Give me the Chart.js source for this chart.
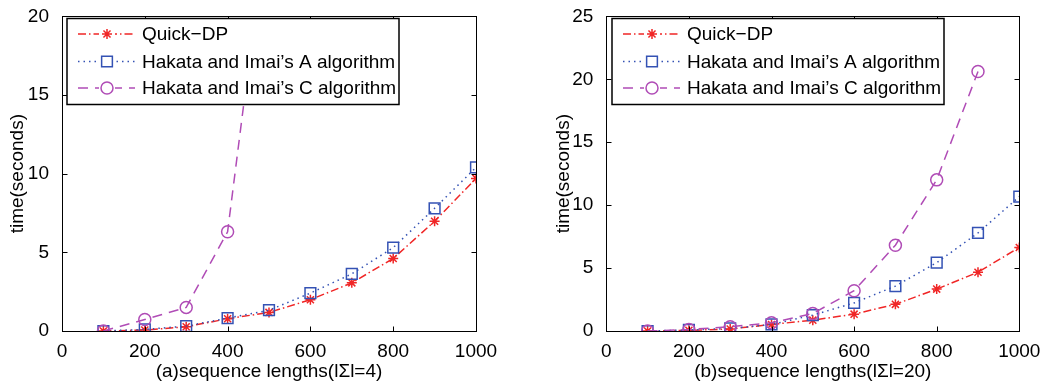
<!DOCTYPE html>
<html><head><meta charset="utf-8">
<script src="https://cdn.jsdelivr.net/npm/chart.js@4.4.1/dist/chart.umd.min.js"></script>
<style>
html,body{margin:0;padding:0;background:#fff;}
#wrap{position:relative;width:1044px;height:389px;overflow:hidden;}
#c1{position:absolute;left:0;top:0;}
#c2{position:absolute;left:520px;top:0;}
</style></head><body>
<div id="wrap"><canvas id="c1" width="520" height="389"></canvas><canvas id="c2" width="524" height="389"></canvas></div>
<script>
// ---- data ----
const lengths = [100, 200, 300, 400, 500, 600, 700, 800, 900, 1000];
const seriesNames = ['Quick\u2212DP', 'Hakata and Imai\u2019s A algorithm', 'Hakata and Imai\u2019s C algorithm'];
const quickDP4  = [0, 0.06, 0.27, 0.78, 1.18, 1.99, 3.06, 4.61, 6.98, 9.7];
const hakataA4  = [0, 0.1, 0.31, 0.82, 1.32, 2.41, 3.63, 5.3, 7.8, 10.4];
const hakataC4  = [0, 0.73, 1.5, 6.31, 27.1];
const quickDP20 = [0, 0.05, 0.16, 0.52, 0.86, 1.34, 2.12, 3.33, 4.67, 6.64];
const hakataA20 = [0, 0.08, 0.2, 0.52, 1.26, 2.23, 3.57, 5.43, 7.79, 10.68];
const hakataC20 = [0, 0.12, 0.34, 0.65, 1.39, 3.2, 6.82, 12.01, 20.62];
const xTicks = [0, 200, 400, 600, 800, 1000];
const yTicks4 = [0, 5, 10, 15, 20];
const yTicks20 = [0, 5, 10, 15, 20, 25];
const xLabel4 = '(a)sequence lengths(l\u03A3l=4)';
const xLabel20 = '(b)sequence lengths(l\u03A3l=20)';
const yLabel = 'time(seconds)';

// ---- styles ----
const FONT = {family: '"Liberation Sans", Arial, Helvetica, sans-serif', size: 19};
const styles = [
  {color: '#f02626', dash: [8, 3, 1.5, 3], pointStyle: 'star', radius: 5},
  {color: '#3452b4', dash: [1.5, 4], pointStyle: 'rect', radius: 7.6},
  {color: '#b04cb6', dash: [10, 7], pointStyle: 'circle', radius: 6}
];

function toPts(vals) { return vals.map((v, i) => ({x: lengths[i], y: v})); }

const framePlugin = {
  id: 'frame',
  afterDraw(chart) {
    const ctx = chart.ctx, a = chart.chartArea;
    ctx.save();
    ctx.strokeStyle = '#000';
    ctx.lineWidth = 1;
    ctx.setLineDash([]);
    const L = Math.round(a.left) + 0.5, R = Math.round(a.right) + 0.5;
    const T = Math.round(a.top) + 0.5, B = Math.round(a.bottom) + 0.5;
    ctx.strokeRect(L, T, R - L, B - T);
    const tl = 5;
    ctx.beginPath();
    chart.scales.x.ticks.forEach(t => {
      const px = Math.round(chart.scales.x.getPixelForValue(t.value)) + 0.5;
      ctx.moveTo(px, B); ctx.lineTo(px, B - tl);
      ctx.moveTo(px, T); ctx.lineTo(px, T + tl);
    });
    chart.scales.y.ticks.forEach(t => {
      const py = Math.round(chart.scales.y.getPixelForValue(t.value)) + 0.5;
      ctx.moveTo(L, py); ctx.lineTo(L + tl, py);
      ctx.moveTo(R, py); ctx.lineTo(R - tl, py);
    });
    ctx.stroke();
    ctx.restore();
  }
};

const legendPlugin = {
  id: 'boxLegend',
  afterDraw(chart, args, opts) {
    const ctx = chart.ctx;
    const bx = opts.x, by = 18.5, bw = 332, bh = 86;
    ctx.save();
    ctx.fillStyle = '#fff';
    ctx.fillRect(bx, by, bw, bh);
    ctx.strokeStyle = '#000';
    ctx.lineWidth = 1.5;
    ctx.setLineDash([]);
    ctx.strokeRect(bx, by, bw, bh);
    const rows = [34, 61.5, 88];
    chart.data.datasets.forEach((ds, i) => {
      const y = rows[i];
      const st = styles[i];
      ctx.strokeStyle = st.color;
      ctx.lineWidth = 1.5;
      ctx.setLineDash(st.dash);
      ctx.beginPath();
      ctx.moveTo(bx + 11, y); ctx.lineTo(bx + 68, y);
      ctx.stroke();
      ctx.setLineDash([]);
      ctx.fillStyle = '#fff';
      ctx.fillRect(bx + 32, y - 7, 16, 14);
      ctx.strokeStyle = st.color;
      ctx.fillStyle = 'rgba(0,0,0,0)';
      ctx.lineWidth = 1.5;
      Chart.helpers.drawPoint(ctx, {pointStyle: st.pointStyle, radius: st.radius, borderWidth: 1.5, rotation: 0}, bx + 40, y);
      ctx.fillStyle = '#000';
      ctx.font = FONT.size + 'px ' + FONT.family;
      ctx.textBaseline = 'middle';
      ctx.textAlign = 'left';
      ctx.fillText(seriesNames[i], bx + 75, y + 1);
    });
    ctx.restore();
  }
};

function makeChart(id, series, yMax, yTicks, xLabel, leftW, rightPad, yTitlePad, legendX) {
  const datasets = series.map((vals, i) => ({
    label: seriesNames[i],
    data: toPts(vals),
    borderColor: styles[i].color,
    backgroundColor: 'rgba(0,0,0,0)',
    borderWidth: 1.5,
    borderDash: styles[i].dash,
    pointStyle: styles[i].pointStyle,
    pointRadius: styles[i].radius,
    pointBorderWidth: 1.5,
    pointBorderColor: styles[i].color,
    pointBackgroundColor: 'rgba(0,0,0,0)',
    tension: 0,
    fill: false,
    order: 3 - i
  }));
  return new Chart(document.getElementById(id), {
    type: 'line',
    data: {datasets},
    plugins: [framePlugin, legendPlugin],
    options: {
      responsive: false,
      animation: false,
      events: [],
      layout: {padding: {top: 13, right: rightPad, left: 0, bottom: 0}, autoPadding: false},
      plugins: {legend: {display: false}, tooltip: {enabled: false}, boxLegend: {x: legendX}},
      scales: {
        x: {
          type: 'linear', min: 0, max: 1000,
          grid: {display: false}, border: {display: false},
          afterBuildTicks(s) { s.ticks = xTicks.map(v => ({value: v})); },
          ticks: {padding: 1, color: '#000', font: FONT, maxRotation: 0, callback: v => String(v)},
          title: {display: true, text: xLabel, color: '#000', font: FONT, padding: {top: 0, bottom: 6}},
          afterFit(s) { s.height = 58; }
        },
        y: {
          type: 'linear', min: 0, max: yMax,
          grid: {display: false}, border: {display: false},
          afterBuildTicks(s) { s.ticks = yTicks.map(v => ({value: v})); },
          ticks: {padding: 5, color: '#000', font: FONT, callback: v => String(v)},
          title: {display: true, text: yLabel, color: '#000', font: FONT, padding: {top: yTitlePad, bottom: 0}},
          afterFit(s) { s.width = leftW; }
        }
      }
    }
  });
}

makeChart('c1', [quickDP4, hakataA4, hakataC4], 20, yTicks4, xLabel4, 62, 44, 6.5, 67);
makeChart('c2', [quickDP20, hakataA20, hakataC20], 25, yTicks20, xLabel20, 86.3, 24.7, 32, 92);
</script>
</body></html>
